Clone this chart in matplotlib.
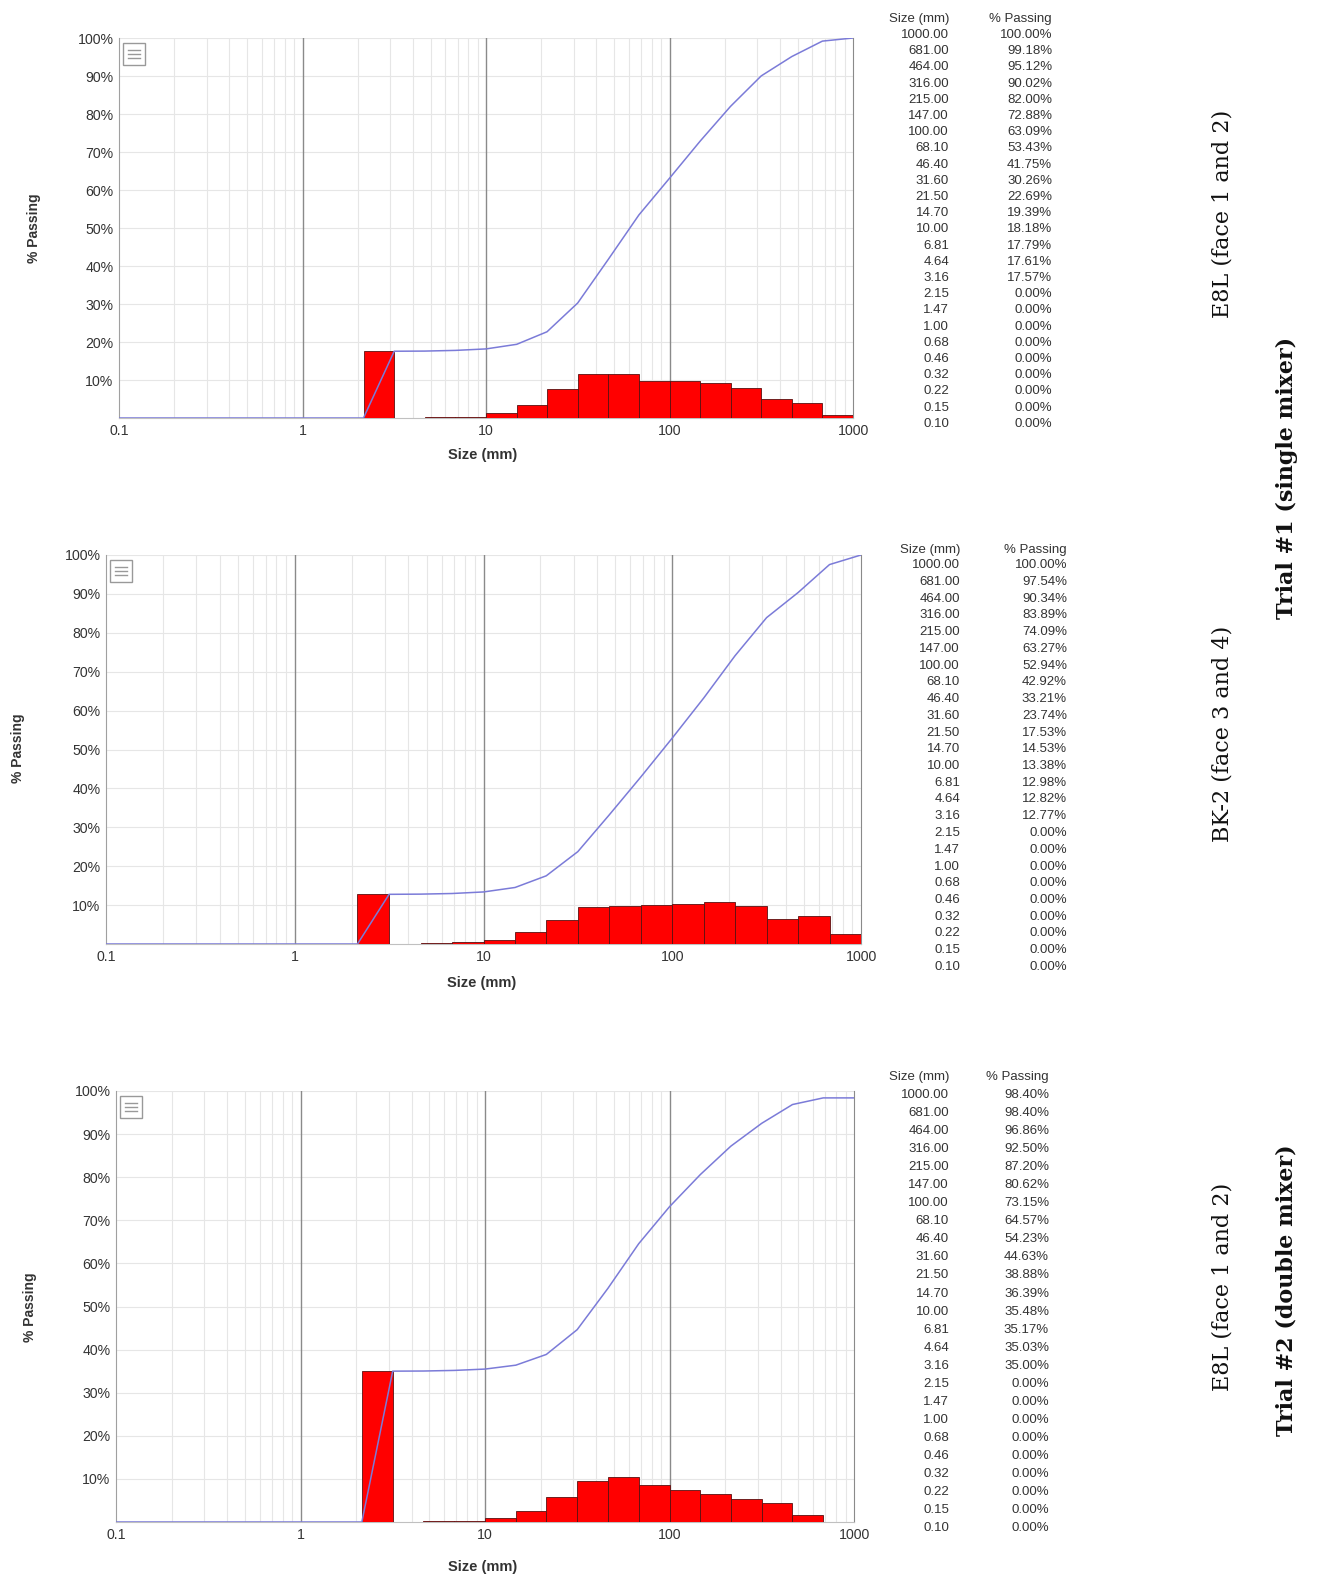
import numpy as np
import matplotlib
matplotlib.use("Agg")
import matplotlib.pyplot as plt
from matplotlib.patches import Rectangle
from matplotlib.lines import Line2D

# sieve sizes (mm) as listed in the tables, top to bottom
sizes = [1000.00, 681.00, 464.00, 316.00, 215.00, 147.00, 100.00, 68.10, 46.40,
         31.60, 21.50, 14.70, 10.00, 6.81, 4.64, 3.16, 2.15, 1.47, 1.00, 0.68,
         0.46, 0.32, 0.22, 0.15, 0.10]

# % passing for each sample
passing_e8l_t1 = [100.00, 99.18, 95.12, 90.02, 82.00, 72.88, 63.09, 53.43, 41.75,
                  30.26, 22.69, 19.39, 18.18, 17.79, 17.61, 17.57, 0, 0, 0, 0,
                  0, 0, 0, 0, 0]
passing_bk2_t1 = [100.00, 97.54, 90.34, 83.89, 74.09, 63.27, 52.94, 42.92, 33.21,
                  23.74, 17.53, 14.53, 13.38, 12.98, 12.82, 12.77, 0, 0, 0, 0,
                  0, 0, 0, 0, 0]
passing_e8l_t2 = [98.40, 98.40, 96.86, 92.50, 87.20, 80.62, 73.15, 64.57, 54.23,
                  44.63, 38.88, 36.39, 35.48, 35.17, 35.03, 35.00, 0, 0, 0, 0,
                  0, 0, 0, 0, 0]

sample_labels = ["E8L (face 1 and 2)", "BK-2 (face 3 and 4)", "E8L (face 1 and 2)"]
trial_labels = ["Trial #1 (single mixer)", "Trial #2 (double mixer)"]

W, H = 1318, 1576
fig = plt.figure(figsize=(W / 100, H / 100), dpi=100)
fig.patch.set_facecolor("white")

def fx(x):
    return x / W

def fy(y):
    return 1 - y / H

# pixel boxes: left, top, right, bottom ; table: size col right, passing col right, header y, first row y, row step
panels = [
    dict(box=(119, 38, 853, 418), table=(949, 1052, 19, 35, 16.2), ylab=(34, 228), xlab=(483, 455)),
    dict(box=(106, 555, 861, 944), table=(960, 1067, 550, 565, 16.75), ylab=(18, 748), xlab=(482, 983)),
    dict(box=(116, 1091, 854, 1522), table=(949, 1049, 1077, 1095, 18.05), ylab=(30, 1307), xlab=(483, 1567)),
]
datasets = [passing_e8l_t1, passing_bk2_t1, passing_e8l_t2]

txt_gray = "#333333"
sans = "Liberation Sans"

for p, passing in zip(panels, datasets):
    l, t, r, b = p["box"]
    ax = fig.add_axes([fx(l), fy(b), (r - l) / W, (b - t) / H])
    s = np.array(sizes)[::-1]
    v = np.array(passing)[::-1]

    # retained fraction per size class
    ax.bar(s[:-1], np.diff(v), width=np.diff(s), align="edge", color="#ff0000",
           edgecolor="#5a1010", linewidth=0.6, zorder=3)
    ax.plot(s, v, color="#7b7bd8", linewidth=1.1, zorder=4)

    ax.set_xscale("log")
    ax.set_xlim(0.1, 1000)
    ax.set_ylim(0, 100)
    ax.set_yticks(np.arange(10, 101, 10))
    ax.set_yticklabels([f"{k}%" for k in range(10, 101, 10)])
    ax.set_xticks([0.1, 1, 10, 100, 1000])
    ax.set_xticklabels(["0.1", "1", "10", "100", "1000"])
    ax.tick_params(axis="both", length=0, labelsize=10.2, labelcolor=txt_gray, pad=4)
    for lab in ax.get_xticklabels() + ax.get_yticklabels():
        lab.set_fontfamily(sans)

    ax.xaxis.set_minor_locator(matplotlib.ticker.LogLocator(base=10, subs=np.arange(2, 10)))
    ax.xaxis.set_minor_formatter(matplotlib.ticker.NullFormatter())
    ax.tick_params(axis="x", which="minor", length=0)
    ax.grid(True, which="minor", axis="x", color="#e6e6e6", linewidth=0.8, zorder=0)
    ax.grid(True, which="major", axis="y", color="#e6e6e6", linewidth=0.8, zorder=0)
    for xv in [1, 10, 100]:
        ax.axvline(xv, color="#8a8a8a", linewidth=1.0, zorder=1)
    ax.set_axisbelow(True)

    ax.spines["top"].set_visible(False)
    ax.spines["left"].set_color("#a0a0a0")
    ax.spines["right"].set_color("#8a8a8a")
    ax.spines["bottom"].set_color("#c0c0c0")

    # menu icon in the top-left corner
    ix, iy, isz = l + 4, t + 5, 22
    fig.add_artist(Rectangle((fx(ix), fy(iy + isz)), isz / W, isz / H, transform=fig.transFigure,
                             facecolor="white", edgecolor="#999999", linewidth=1.0, zorder=5))
    for k in range(3):
        yy = iy + 7 + k * 4
        fig.add_artist(Line2D([fx(ix + 5), fx(ix + isz - 5)], [fy(yy), fy(yy)],
                              transform=fig.transFigure, color="#999999", linewidth=1.0, zorder=6))

    # axis titles
    fig.text(fx(p["ylab"][0]), fy(p["ylab"][1]), "% Passing", rotation=90, ha="center", va="center",
             fontsize=10, fontweight="bold", color=txt_gray, family=sans)
    fig.text(fx(p["xlab"][0]), fy(p["xlab"][1]), "Size (mm)", ha="center", va="center",
             fontsize=10.5, fontweight="bold", color=txt_gray, family=sans)

    # table of values
    cs, cp, hy, ry, step = p["table"]
    fig.text(fx(cs), fy(hy), "Size (mm)", ha="right", va="center", fontsize=9.5, color=txt_gray, family=sans)
    fig.text(fx(cp), fy(hy), "% Passing", ha="right", va="center", fontsize=9.5, color=txt_gray, family=sans)
    for i, (sz, pv) in enumerate(zip(sizes, passing)):
        yy = ry + i * step
        fig.text(fx(cs), fy(yy), f"{sz:.2f}", ha="right", va="center", fontsize=9.5,
                 color=txt_gray, family=sans)
        fig.text(fx(cp), fy(yy), f"{pv:.2f}%", ha="right", va="center", fontsize=9.5,
                 color=txt_gray, family=sans)

# sample names and trial names on the right
serif = "DejaVu Serif"
for ycen, lab in zip([214, 734, 1287], sample_labels):
    fig.text(fx(1223), fy(ycen), lab, rotation=90, ha="center", va="center",
             fontsize=16, family=serif, color="#111111")
for ycen, lab in zip([478, 1290], trial_labels):
    fig.text(fx(1287), fy(ycen), lab, rotation=90, ha="center", va="center",
             fontsize=16, fontweight="bold", family=serif, color="#111111")

fig.savefig("out.png", dpi=100, facecolor="white")
